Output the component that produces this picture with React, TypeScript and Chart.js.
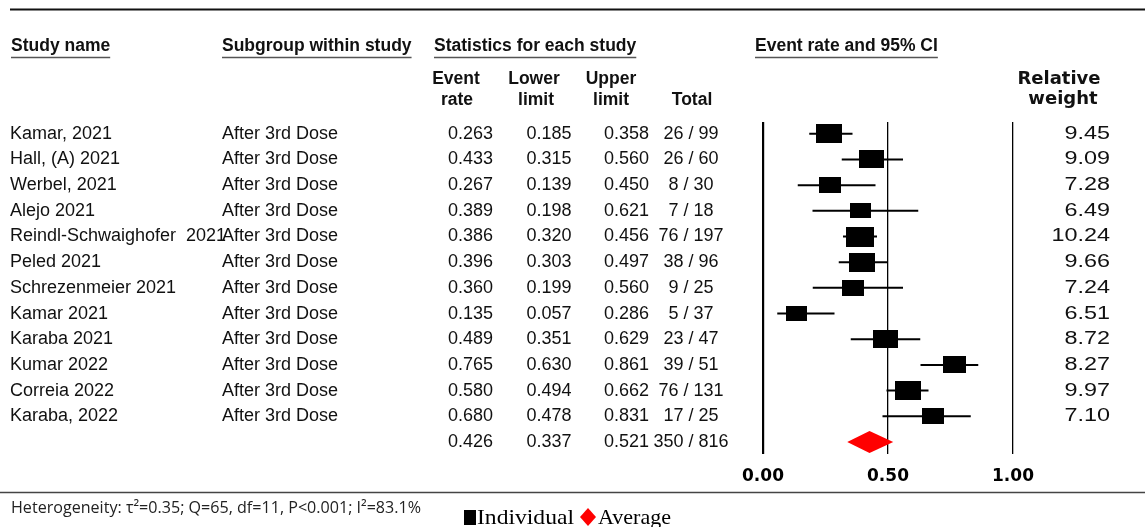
import { useEffect, useRef } from 'react';
import { Chart, registerables } from 'chart.js';

Chart.register(...registerables);

// ---------- data ----------
const studyNames = [
  'Kamar, 2021',
  'Hall, (A) 2021',
  'Werbel, 2021',
  'Alejo 2021',
  'Reindl-Schwaighofer  2021',
  'Peled 2021',
  'Schrezenmeier 2021',
  'Kamar 2021',
  'Karaba 2021',
  'Kumar 2022',
  'Correia 2022',
  'Karaba, 2022',
];
const subgroups = [
  'After 3rd Dose', 'After 3rd Dose', 'After 3rd Dose', 'After 3rd Dose',
  'After 3rd Dose', 'After 3rd Dose', 'After 3rd Dose', 'After 3rd Dose',
  'After 3rd Dose', 'After 3rd Dose', 'After 3rd Dose', 'After 3rd Dose',
];
const eventRates = [0.263, 0.433, 0.267, 0.389, 0.386, 0.396, 0.36, 0.135, 0.489, 0.765, 0.58, 0.68];
const lowerLimits = [0.185, 0.315, 0.139, 0.198, 0.32, 0.303, 0.199, 0.057, 0.351, 0.63, 0.494, 0.478];
const upperLimits = [0.358, 0.56, 0.45, 0.621, 0.456, 0.497, 0.56, 0.286, 0.629, 0.861, 0.662, 0.831];
const totals = ['26 / 99', '26 / 60', '8 / 30', '7 / 18', '76 / 197', '38 / 96', '9 / 25', '5 / 37', '23 / 47', '39 / 51', '76 / 131', '17 / 25'];
const weights = [9.45, 9.09, 7.28, 6.49, 10.24, 9.66, 7.24, 6.51, 8.72, 8.27, 9.97, 7.1];

const summaryRate = 0.426;
const summaryLower = 0.337;
const summaryUpper = 0.521;
const summaryTotal = '350 / 816';

const xTickValues = [0, 0.5, 1];
const heterogeneityText = 'Heterogeneity: \u03C4\u00B2=0.35; Q=65, df=11, P<0.001; I\u00B2=83.1%';

// ---------- helpers ----------
const SANS = '"Liberation Sans", Arial, sans-serif';

function squareImage(w: number): HTMLCanvasElement {
  const h = Math.round(7 + 1.25 * w);
  const wd = Math.round(h * 1.38);
  const c = document.createElement('canvas');
  c.width = wd;
  c.height = h;
  const cx = c.getContext('2d')!;
  cx.fillStyle = '#000';
  cx.fillRect(0, 0, wd, h);
  return c;
}

function text(
  ctx: CanvasRenderingContext2D,
  s: string,
  x: number,
  y: number,
  font: string,
  align: CanvasTextAlign = 'left',
  scaleX = 1,
  color = '#111',
) {
  ctx.save();
  ctx.font = font;
  ctx.fillStyle = color;
  ctx.textBaseline = 'middle';
  ctx.textAlign = align;
  ctx.translate(x, y);
  ctx.scale(scaleX, 1);
  ctx.fillText(s, 0, 0);
  ctx.restore();
}

function textFit(ctx: CanvasRenderingContext2D, s: string, x: number, y: number, font: string, targetW: number, color = '#111') {
  ctx.save();
  ctx.font = font;
  const m = ctx.measureText(s).width;
  ctx.restore();
  text(ctx, s, x, y, font, 'left', targetW / m, color);
}

function hline(ctx: CanvasRenderingContext2D, x1: number, x2: number, y: number, w: number, color: string) {
  ctx.save();
  ctx.strokeStyle = color;
  ctx.lineWidth = w;
  ctx.beginPath();
  ctx.moveTo(x1, y);
  ctx.lineTo(x2, y);
  ctx.stroke();
  ctx.restore();
}

const tablePlugin = {
  id: 'forestTable',
  afterDatasetsDraw(chart: any) {
    const ctx: CanvasRenderingContext2D = chart.ctx;
    const xs = chart.scales.x;
    const ys = chart.scales.y;

    // summary diamond
    const yS = ys.getPixelForValue(studyNames.length);
    const xl = xs.getPixelForValue(summaryLower);
    const xm = xs.getPixelForValue(summaryRate);
    const xu = xs.getPixelForValue(summaryUpper);
    ctx.save();
    ctx.fillStyle = '#ff0000';
    ctx.beginPath();
    ctx.moveTo(xl, yS);
    ctx.lineTo(xm, yS - 11);
    ctx.lineTo(xu, yS);
    ctx.lineTo(xm, yS + 11);
    ctx.closePath();
    ctx.fill();
    ctx.restore();
  },
  afterDraw(chart: any) {
    const ctx: CanvasRenderingContext2D = chart.ctx;
    const ys = chart.scales.y;

    // frame lines
    hline(ctx, 10, 1145, 9.5, 2, '#111');
    hline(ctx, 0, 1145, 492.5, 1.5, '#444');

    // headers
    const hb = `bold 17.5px ${SANS}`;
    const headers: [string, number][] = [
      ['Study name', 11],
      ['Subgroup within study', 222],
      ['Statistics for each study', 434],
      ['Event rate and 95% CI', 755],
    ];
    headers.forEach(([s, x]) => {
      text(ctx, s, x, 46.5, hb);
      ctx.save();
      ctx.font = hb;
      const w = ctx.measureText(s).width;
      ctx.restore();
      hline(ctx, x, x + w, 57.5, 1.5, '#555');
    });

    const sb = `bold 17.5px ${SANS}`;
    text(ctx, 'Event', 456, 79, sb, 'center');
    text(ctx, 'rate', 457, 100, sb, 'center');
    text(ctx, 'Lower', 534, 79, sb, 'center');
    text(ctx, 'limit', 536, 100, sb, 'center');
    text(ctx, 'Upper', 611, 79, sb, 'center');
    text(ctx, 'limit', 611, 100, sb, 'center');
    text(ctx, 'Total', 692, 100, sb, 'center');
    const rw = 'bold 18px "DejaVu Sans", sans-serif';
    text(ctx, 'Relative', 1059, 79, rw, 'center');
    text(ctx, 'weight', 1063, 99, rw, 'center');

    // rows
    const bf = `18px ${SANS}`;
    studyNames.forEach((name, i) => {
      const y = ys.getPixelForValue(i);
      text(ctx, name, 10, y, bf);
      text(ctx, subgroups[i], 222, y, bf);
      text(ctx, eventRates[i].toFixed(3), 470.5, y, bf, 'center');
      text(ctx, lowerLimits[i].toFixed(3), 549, y, bf, 'center');
      text(ctx, upperLimits[i].toFixed(3), 626.5, y, bf, 'center');
      text(ctx, totals[i], 691, y, bf, 'center');
      text(ctx, weights[i].toFixed(2), 1110, y, bf, 'right', 1.3);
    });
    const yS = ys.getPixelForValue(studyNames.length);
    text(ctx, summaryRate.toFixed(3), 470.5, yS, bf, 'center');
    text(ctx, summaryLower.toFixed(3), 549, yS, bf, 'center');
    text(ctx, summaryUpper.toFixed(3), 626.5, yS, bf, 'center');
    text(ctx, summaryTotal, 691, yS, bf, 'center');

    // footer
    textFit(ctx, heterogeneityText, 11, 508, '16.5px "Open Sans", sans-serif', 410, '#222');

    // legend
    ctx.save();
    ctx.fillStyle = '#000';
    ctx.fillRect(464, 510, 12, 15);
    ctx.fillStyle = '#ff0000';
    ctx.beginPath();
    ctx.moveTo(580, 517);
    ctx.lineTo(588, 508);
    ctx.lineTo(596, 517);
    ctx.lineTo(588, 526);
    ctx.closePath();
    ctx.fill();
    ctx.restore();
    const lf = '21px "Liberation Serif", "Times New Roman", serif';
    textFit(ctx, 'Individual', 477, 518, lf, 97, '#000');
    textFit(ctx, 'Average', 598, 518, lf, 73, '#000');
  },
};

export default function App() {
  const ref = useRef<HTMLCanvasElement | null>(null);

  useEffect(() => {
    if (!ref.current) return;
    const squareImages = weights.map((w) => squareImage(w));

    const ciDatasets = studyNames.map((_, i) => ({
      type: 'line' as const,
      data: [
        { x: lowerLimits[i], y: i },
        { x: upperLimits[i], y: i },
      ],
      borderColor: '#000',
      borderWidth: 2,
      pointRadius: 0,
      showLine: true,
      fill: false,
      order: 1,
    }));

    const chart = new Chart(ref.current, {
      type: 'scatter',
      data: {
        datasets: [
          {
            type: 'scatter' as const,
            data: eventRates.map((r, i) => ({ x: r, y: i })),
            pointStyle: (c: any) => squareImages[c.dataIndex] as any,
            pointRadius: 10,
            backgroundColor: '#000',
            borderColor: '#000',
            order: 0,
          },
          ...ciDatasets,
        ] as any,
      },
      options: {
        responsive: false,
        animation: false,
        devicePixelRatio: 1,
        layout: { padding: { left: 763, right: 132, top: 122, bottom: 28.6 } },
        plugins: { legend: { display: false }, tooltip: { enabled: false } },
        scales: {
          x: {
            type: 'linear',
            min: 0,
            max: 1,
            afterBuildTicks: (axis: any) => {
              axis.ticks = xTickValues.map((v) => ({ value: v }));
            },
            ticks: {
              padding: 12,
              color: '#000',
              font: { family: '"DejaVu Sans", sans-serif', weight: 'bold', size: 17 },
              callback: (v: any) => Number(v).toFixed(2),
            },
            grid: {
              color: '#000',
              lineWidth: (c: any) => (c.tick && c.tick.value === 0 ? 2.2 : 1.3),
              drawTicks: false,
            },
            border: { display: false },
          },
          y: {
            type: 'linear',
            min: -0.46,
            max: 12.47,
            reverse: true,
            display: false,
          },
        },
      },
      plugins: [tablePlugin],
    });
    return () => chart.destroy();
  }, []);

  return (
    <div style={{ position: 'absolute', left: 0, top: 0, width: 1145, height: 527, background: '#fff' }}>
      <canvas ref={ref} width={1145} height={527} style={{ display: 'block' }} />
    </div>
  );
}
